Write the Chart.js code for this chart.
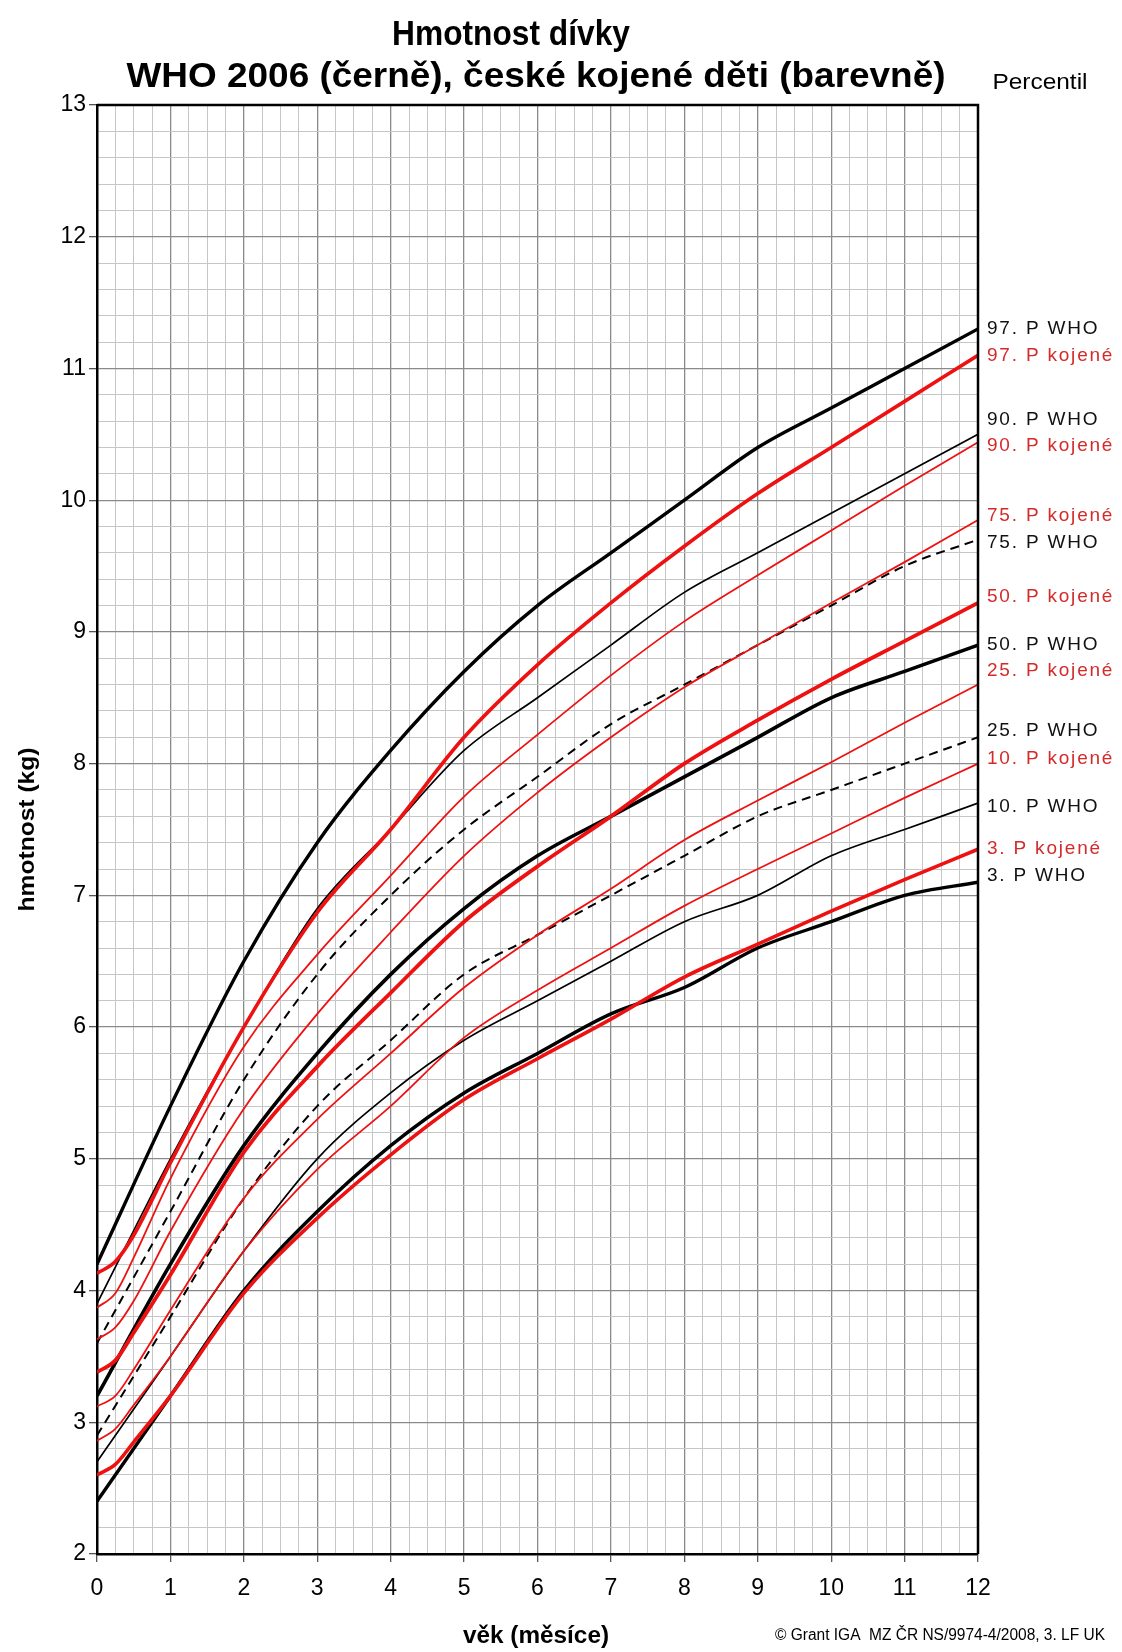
<!DOCTYPE html>
<html>
<head>
<meta charset="utf-8">
<title>Hmotnost dívky</title>
<script src="https://cdn.jsdelivr.net/npm/chart.js@4.4.1/dist/chart.umd.min.js"></script>
<style>
  html, body { margin: 0; padding: 0; background: #fff; }
  #wrap { width: 1122px; height: 1652px; }
</style>
</head>
<body>
<div id="wrap"><canvas id="growthChart" width="1122" height="1652"></canvas></div>
<script>
// Age in months
const monthsWho = [0, 1, 2, 3, 4, 5, 6, 7, 8, 9, 10, 11, 12];
const monthsCz = [0, 0.25, 0.5, 1, 2, 3, 4, 5, 6, 7, 8, 9, 10, 11, 12];

// WHO 2006 percentiles (black)
const who3  = [2.4, 3.2, 4.0, 4.6, 5.1, 5.5, 5.8, 6.1, 6.3, 6.6, 6.8, 7.0, 7.1];
const who10 = [2.7, 3.5, 4.3, 5.0, 5.5, 5.9, 6.2, 6.5, 6.8, 7.0, 7.3, 7.5, 7.7];
const who25 = [2.9, 3.8, 4.7, 5.4, 5.9, 6.4, 6.7, 7.0, 7.3, 7.6, 7.8, 8.0, 8.2];
const who50 = [3.2, 4.2, 5.1, 5.8, 6.4, 6.9, 7.3, 7.6, 7.9, 8.2, 8.5, 8.7, 8.9];
const who75 = [3.6, 4.6, 5.6, 6.4, 7.0, 7.5, 7.9, 8.3, 8.6, 8.9, 9.2, 9.5, 9.7];
const who90 = [3.9, 5.0, 6.0, 6.9, 7.5, 8.1, 8.5, 8.9, 9.3, 9.6, 9.9, 10.2, 10.5];
const who97 = [4.2, 5.4, 6.5, 7.4, 8.1, 8.7, 9.2, 9.6, 10.0, 10.4, 10.7, 11.0, 11.3];

// Czech breastfed children percentiles (red)
const cz3  = [2.6, 2.68, 2.85, 3.2, 3.98, 4.55, 5.03, 5.45, 5.76, 6.06, 6.38, 6.63, 6.88, 7.12, 7.35];
const cz10 = [2.86, 2.95, 3.13, 3.5, 4.3, 4.92, 5.4, 5.92, 6.28, 6.6, 6.92, 7.2, 7.47, 7.74, 8.0];
const cz25 = [3.12, 3.2, 3.4, 3.85, 4.7, 5.3, 5.8, 6.3, 6.7, 7.05, 7.42, 7.72, 8.01, 8.31, 8.6];
const cz50 = [3.38, 3.47, 3.68, 4.12, 5.05, 5.7, 6.26, 6.8, 7.22, 7.6, 8.0, 8.33, 8.64, 8.93, 9.22];
const cz75 = [3.63, 3.72, 3.92, 4.45, 5.38, 6.1, 6.72, 7.3, 7.78, 8.2, 8.58, 8.9, 9.22, 9.53, 9.85];
const cz90 = [3.87, 3.98, 4.25, 4.85, 5.85, 6.55, 7.15, 7.75, 8.22, 8.67, 9.08, 9.43, 9.77, 10.11, 10.44];
const cz97 = [4.13, 4.22, 4.42, 4.97, 6.0, 6.87, 7.5, 8.2, 8.75, 9.22, 9.65, 10.05, 10.4, 10.75, 11.1];

// Texts
const titleText = 'Hmotnost dívky';
const subtitleText = 'WHO 2006 (černě), české kojené děti (barevně)';
const percentilText = 'Percentil';
const yTitle = 'hmotnost (kg)';
const xTitle = 'věk (měsíce)';
const creditText = '© Grant IGA  MZ ČR NS/9974-4/2008, 3. LF UK';

const BLACK = '#000000';
const RED = '#ee1111';
const RED_TEXT = '#d42a2a';

function isWhole(v) {
    return Math.abs(v - Math.round(v)) < 1e-6;
}

function toPoints(months, values) {
    return values.map((v, i) => ({ x: months[i], y: v }));
}

// name, months, values, color, width, dash, label nudge (px)
const series = [
    ['97. P WHO',    monthsWho, who97, BLACK, 3.4, [], 0],
    ['97. P kojené', monthsCz,  cz97,  RED,   3.6, [], 0],
    ['90. P WHO',    monthsWho, who90, BLACK, 1.7, [], -15],
    ['90. P kojené', monthsCz,  cz90,  RED,   1.8, [], 4],
    ['75. P kojené', monthsCz,  cz75,  RED,   1.8, [], -4],
    ['75. P WHO',    monthsWho, who75, BLACK, 2.0, [9, 6], 3],
    ['50. P kojené', monthsCz,  cz50,  RED,   3.8, [], -6],
    ['50. P WHO',    monthsWho, who50, BLACK, 3.6, [], 0],
    ['25. P kojené', monthsCz,  cz25,  RED,   1.8, [], -14],
    ['25. P WHO',    monthsWho, who25, BLACK, 2.0, [9, 6], -7],
    ['10. P kojené', monthsCz,  cz10,  RED,   1.8, [], -5],
    ['10. P WHO',    monthsWho, who10, BLACK, 1.7, [], 4],
    ['3. P kojené',  monthsCz,  cz3,   RED,   3.6, [], 0],
    ['3. P WHO',     monthsWho, who3,  BLACK, 3.4, [], -6]
];

const datasets = series.map(s => ({
    label: s[0],
    data: toPoints(s[1], s[2]),
    borderColor: s[3],
    borderWidth: s[4],
    borderDash: s[5],
    pointRadius: 0,
    fill: false,
    cubicInterpolationMode: 'monotone',
    order: s[3] === RED ? 0 : 1
}));

// Draw text scaled horizontally to a given width
function fitText(ctx, text, cx, cy, width, font, color) {
    ctx.save();
    ctx.font = font;
    ctx.fillStyle = color;
    ctx.textAlign = 'center';
    ctx.textBaseline = 'middle';
    const w = ctx.measureText(text).width;
    ctx.translate(cx, cy);
    ctx.scale(width / w, 1);
    ctx.fillText(text, 0, 0);
    ctx.restore();
}

const textPlugin = {
    id: 'chartText',
    afterDraw(chart) {
        const { ctx, chartArea: a } = chart;
        const yScale = chart.scales.y;
        ctx.save();

        // Frame top and right
        ctx.strokeStyle = '#000';
        ctx.lineWidth = 2.5;
        ctx.beginPath();
        ctx.moveTo(a.left, a.top);
        ctx.lineTo(a.right, a.top);
        ctx.lineTo(a.right, a.bottom);
        ctx.stroke();

        // Titles
        fitText(ctx, titleText, 511, 35, 238, 'bold 35px "Liberation Sans"', '#000');
        fitText(ctx, subtitleText, 536, 77, 819, 'bold 35px "Liberation Sans"', '#000');
        fitText(ctx, percentilText, 1040, 83, 95, '22px "Liberation Sans"', '#000');

        // Axis titles
        ctx.save();
        ctx.translate(28, (a.top + a.bottom) / 2);
        ctx.rotate(-Math.PI / 2);
        fitText(ctx, yTitle, 0, 0, 164, 'bold 22px "Liberation Sans"', '#000');
        ctx.restore();
        fitText(ctx, xTitle, 536, 1637, 146, 'bold 23px "Liberation Sans"', '#000');
        fitText(ctx, creditText, 940, 1636, 330, '16px "Liberation Sans"', '#000');

        // Right-hand percentile labels
        ctx.font = '19px "Liberation Sans"';
        ctx.textAlign = 'left';
        ctx.textBaseline = 'middle';
        ctx.letterSpacing = '1.8px';
        series.forEach(s => {
            const vals = s[2];
            const y = yScale.getPixelForValue(vals[vals.length - 1]) + s[6];
            ctx.fillStyle = s[3] === RED ? RED_TEXT : '#111';
            ctx.fillText(s[0], a.right + 9, y);
        });
        ctx.restore();
    }
};

const gridColor = c => (c.tick && isWhole(c.tick.value)) ? '#8a8a8a' : '#c6c6c6';
const gridWidth = c => (c.tick && isWhole(c.tick.value)) ? 1.3 : 1;
const tickColor = c => (c.tick && isWhole(c.tick.value)) ? '#555' : 'rgba(0,0,0,0)';

new Chart(document.getElementById('growthChart'), {
    type: 'line',
    data: { datasets: datasets },
    options: {
        responsive: false,
        animation: false,
        events: [],
        layout: { padding: { top: 105, right: 144, bottom: 0, left: 0 } },
        plugins: {
            legend: { display: false },
            tooltip: { enabled: false },
            title: { display: false }
        },
        scales: {
            x: {
                type: 'linear',
                min: 0,
                max: 12,
                afterFit: s => { s.height = 98; },
                ticks: {
                    stepSize: 0.25,
                    autoSkip: false,
                    maxRotation: 0,
                    padding: 13,
                    color: '#000',
                    font: { family: 'Liberation Sans', size: 23 },
                    callback: v => isWhole(v) ? String(Math.round(v)) : ''
                },
                grid: { color: gridColor, lineWidth: gridWidth, tickLength: 8, tickColor: tickColor },
                border: { color: '#000', width: 2.5 }
            },
            y: {
                type: 'linear',
                min: 2,
                max: 13,
                afterFit: s => { s.width = 97; },
                ticks: {
                    stepSize: 0.2,
                    autoSkip: false,
                    padding: 3,
                    color: '#000',
                    font: { family: 'Liberation Sans', size: 23 },
                    callback: v => isWhole(v) ? String(Math.round(v)) : ''
                },
                grid: { color: gridColor, lineWidth: gridWidth, tickLength: 8, tickColor: tickColor },
                border: { color: '#000', width: 2.5 }
            }
        }
    },
    plugins: [textPlugin]
});
</script>
</body>
</html>
